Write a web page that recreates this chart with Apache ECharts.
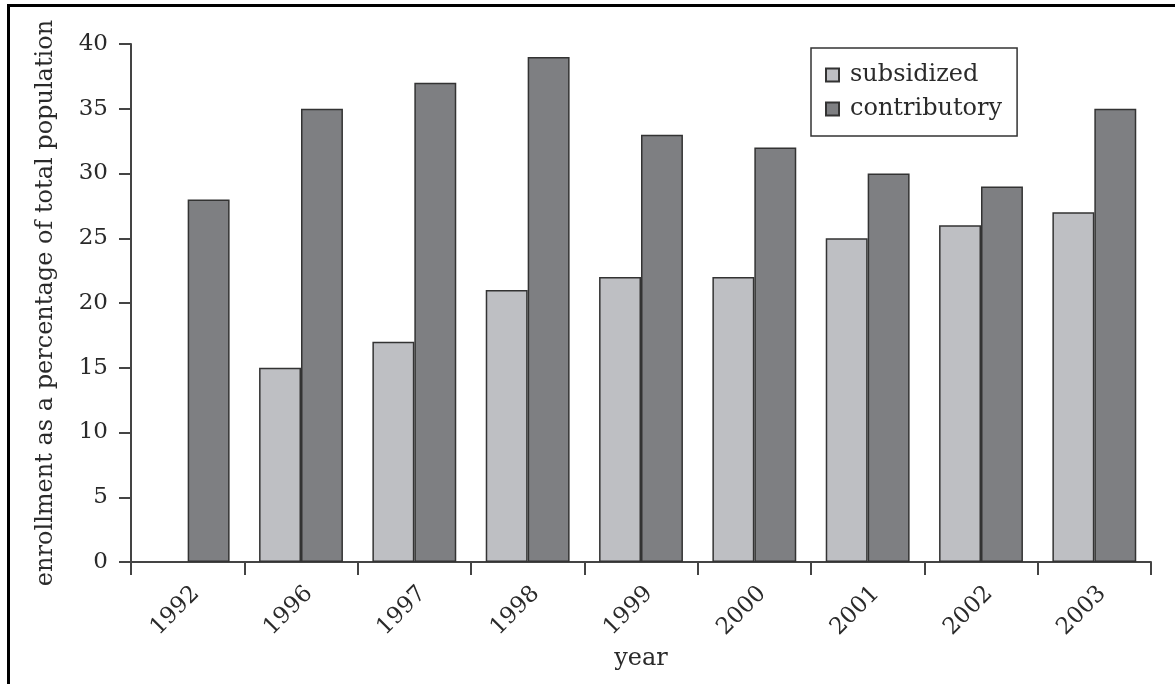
<!DOCTYPE html>
<html>
<head>
<meta charset="utf-8">
<script src="https://cdn.jsdelivr.net/npm/echarts@6/dist/echarts.min.js"></script>
<style>
html,body{margin:0;padding:0;background:#fff;}
#chart{position:absolute;left:0;top:0;width:1175px;height:684px;}
#frame{position:absolute;left:7px;top:4px;width:1166px;height:690px;border-top:3px solid #000;border-left:3px solid #000;pointer-events:none;}
</style>
</head>
<body>
<div id="chart"></div>
<div id="frame"></div>
<script>
const categories = ['1992','1996','1997','1998','1999','2000','2001','2002','2003'];
const subsidized = [null, 15, 17, 21, 22, 22, 25, 26, 27];
const contributory = [28, 35, 37, 39, 33, 32, 30, 29, 35];
const seriesNames = ['subsidized', 'contributory'];

const FONT = 'DejaVu Serif';
const TXT = '#2a2a2a';
const chart = echarts.init(document.getElementById('chart'), null, {renderer: 'canvas'});
chart.setOption({
  animation: false,
  backgroundColor: '#fff',
  textStyle: {fontFamily: FONT},
  grid: {left: 131, right: 24, top: 44, bottom: 122, containLabel: false},
  legend: {
    data: seriesNames,
    orient: 'vertical',
    left: 811, top: 48,
    padding: [15, 15, 15, 14],
    itemWidth: 13, itemHeight: 13, itemGap: 10,
    borderColor: '#333', borderWidth: 1.5,
    icon: 'rect',
    textStyle: {fontFamily: FONT, fontSize: 24, lineHeight: 22, color: TXT, padding: [0, 0, 0, 6]}
  },
  xAxis: {
    type: 'category',
    data: categories,
    name: 'year',
    nameLocation: 'middle',
    nameGap: 85,
    nameTextStyle: {fontFamily: FONT, fontSize: 24, color: TXT},
    axisLine: {lineStyle: {color: '#444', width: 2}},
    axisTick: {show: true, length: 13, lineStyle: {color: '#444', width: 2}},
    axisLabel: {rotate: 45, margin: 20, verticalAlign: 'top', fontFamily: FONT, fontSize: 23, color: TXT}
  },
  yAxis: {
    type: 'value',
    min: 0, max: 40, interval: 5,
    name: 'enrollment as a percentage of total population',
    nameLocation: 'middle',
    nameGap: 73,
    nameTextStyle: {fontFamily: FONT, fontSize: 24, color: TXT},
    axisLine: {show: true, lineStyle: {color: '#444', width: 2}},
    axisTick: {show: true, length: 12, lineStyle: {color: '#444', width: 2}},
    axisLabel: {margin: 23, fontFamily: FONT, fontSize: 23, color: TXT},
    splitLine: {show: false}
  },
  series: [
    {
      name: seriesNames[0], type: 'bar', data: subsidized,
      barGap: '0%', barCategoryGap: '26%',
      itemStyle: {color: '#bebfc3', borderColor: '#333', borderWidth: 1.5}
    },
    {
      name: seriesNames[1], type: 'bar', data: contributory,
      barGap: '0%', barCategoryGap: '26%',
      itemStyle: {color: '#7e7f82', borderColor: '#333', borderWidth: 1.5}
    }
  ]
});
</script>
</body>
</html>
